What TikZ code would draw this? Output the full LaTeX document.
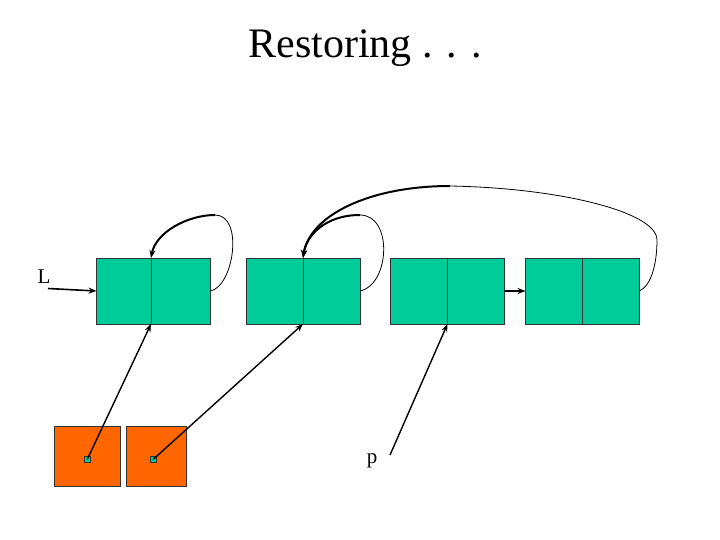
\documentclass[tikz,border=0pt]{standalone}
\usepackage{fontspec}
\setmainfont{Liberation Serif}
\usetikzlibrary{arrows.meta}
\definecolor{cellgreen}{RGB}{0,204,153}
\definecolor{boxorange}{RGB}{255,102,0}
\tikzset{
  cell/.style={draw=black!80, fill=cellgreen, line width=0.9pt, inner sep=0pt, outer sep=0pt, minimum height=66pt},
  obox/.style={draw=black!80, fill=boxorange, line width=0.9pt, inner sep=0pt, outer sep=0pt, minimum height=60pt},
  dot/.style={draw=black!80, fill=cellgreen, line width=0.7pt, inner sep=0pt, minimum size=6pt},
  tip/.style={-{Stealth[length=8pt,width=6pt]}},
  thinln/.style={line width=0.8pt},
  thickln/.style={line width=2pt},
  ptr/.style={tip, line width=1.4pt},
  lbl/.style={font=\fontsize{21}{24}\selectfont, inner sep=0pt}
}
\begin{document}
\begin{tikzpicture}[x=1pt,y=-1pt]
\useasboundingbox (0,0) rectangle (720,540);
\node[font=\fontsize{42}{48}\selectfont, inner sep=0pt] (title) at (365,48) {Restoring . . .};
% list nodes
\node[cell, minimum width=54.5pt] (n1a) at (123.75,291) {};
\node[cell, minimum width=59.5pt] (n1b) at (180.75,291) {};
\node[cell, minimum width=56.5pt] (n2a) at (274.75,291) {};
\node[cell, minimum width=57.5pt] (n2b) at (331.75,291) {};
\node[cell, minimum width=57pt] (n3a) at (419,291) {};
\node[cell, minimum width=57pt] (n3b) at (476,291) {};
\node[cell, minimum width=57pt] (n4a) at (554,291) {};
\node[cell, minimum width=57pt] (n4b) at (611,291) {};
% orange boxes
\node[obox, minimum width=66pt] (o1) at (87.3,456) {};
\node[obox, minimum width=60pt] (o2) at (156.3,456) {};
\node[dot] (d1) at (87.3,459.3) {};
\node[dot] (d2) at (153.3,459.3) {};
% labels
\node[lbl] (L) at (44,277) {L};
\coordinate (Lstart) at (48,288.5);
\node[lbl] (p) at (372,461) {p};
\coordinate (pstart) at (390,455);
% curve coordinates
\coordinate (c1) at (215,215);
\coordinate (c2) at (360,215);
\coordinate (c3) at (450,186);
% connectors
\draw[ptr, line width=1.6pt] (Lstart) -- (n1a.west);
\draw[ptr] (n3b.east) -- (n4a.west);
\draw[ptr] (d1.center) -- (n1a.south east);
\draw[ptr] (d2.center) -- (n2a.south east);
\draw[ptr] (pstart) -- (n3a.south east);
% curve 1
\draw[thinln] (n1b.east) .. controls (234,286) and (244,215) .. (c1);
\draw[thickln, tip] (c1) .. controls (188,215) and (156,232) .. (n1a.north east);
% curve 2
\draw[thinln] (n2b.east) .. controls (390,284) and (393,215) .. (c2);
\draw[thickln, tip] (c2) .. controls (325,215) and (306,236) .. (n2a.north east);
% curve 3
\draw[thinln] (n4b.east) .. controls (652,285) and (657,262) .. (657,240) .. controls (657,212) and (560,188) .. (c3);
\draw[thickln, tip] (c3) .. controls (370,186) and (310,215) .. (n2a.north east);
\end{tikzpicture}
\end{document}
